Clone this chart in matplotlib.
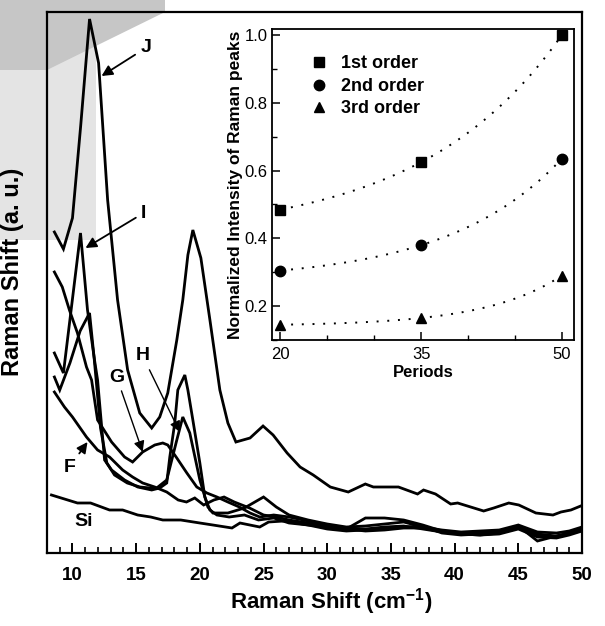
import numpy as np
import matplotlib
matplotlib.use("Agg")
import matplotlib.pyplot as plt
from matplotlib.ticker import MultipleLocator, FixedLocator
from matplotlib.patches import Polygon

plt.rcParams['font.family'] = ['Liberation Sans', 'DejaVu Sans']
plt.rcParams['mathtext.fontset'] = 'custom'
plt.rcParams['mathtext.rm'] = 'Liberation Sans:bold'
plt.rcParams['mathtext.bf'] = 'Liberation Sans:bold'

# ---------------- main spectra (x: cm^-1, y: arbitrary units) ----------------
tail_x = [27.0, 28.5, 30.0, 31.5, 33.0, 34.5, 36.0, 37.5, 39.0, 40.5, 42.0, 43.5, 45.0, 46.5, 48.0, 49.0, 50.0]

J_x = [8.58, 9.29, 10.0, 10.65, 11.34, 12.05, 12.76, 13.54, 14.33, 15.28, 16.22, 16.85, 17.48, 18.19, 18.66,
       19.06, 19.45, 20.08, 20.79, 21.57, 22.2, 22.83, 23.94, 24.96, 25.75, 26.85, 27.87, 28.9, 30.24, 31.65,
       32.99, 33.62, 35.59, 37.09, 37.56, 38.5, 39.69, 40.24, 41.26, 42.28, 43.07, 44.25, 45.04, 46.38, 47.72,
       48.35, 49.13, 49.9]
J_y = [321, 304, 335, 428, 534, 490, 353, 253, 183, 140, 125, 136, 160, 213, 253,
       298, 323, 295, 233, 163, 130, 111, 115, 127, 118, 100, 86, 78, 66, 61,
       69, 66, 66, 59, 63, 59, 49, 50, 46, 42, 45, 50, 48, 40, 38,
       41, 43, 47]

I_x = [8.58, 9.29, 10.63, 11.18, 11.73, 11.97, 12.52, 13.07, 14.09, 15.12, 16.22, 16.85, 17.4, 17.64, 18.03,
       18.27, 18.82, 19.06, 19.45, 20.0, 20.39, 20.79, 21.34, 22.3, 23.5, 24.6, 25.8] + tail_x
I_y = [200, 180, 320, 243, 193, 173, 93, 83, 73, 66, 63, 65, 70, 96, 130,
       163, 178, 163, 133, 90, 56, 43, 38, 36, 38, 33, 35] + \
      [30, 28, 24, 22, 23, 25, 26, 27, 20, 18, 19, 21, 26, 19, 17, 20, 24]

H_x = [8.58, 9.0, 9.8, 10.6, 11.34, 11.7, 12.2, 12.7, 13.3, 14.3, 15.3, 16.1, 16.61, 17.4, 18.19,
       18.66, 19.21, 20.0, 20.63, 21.02, 22.2, 23.5, 25.0, 26.0] + tail_x
H_y = [176, 163, 190, 222, 240, 195, 125, 90, 78, 70, 66, 65, 65, 73, 113,
       136, 120, 73, 46, 40, 40, 45, 56, 46] + \
      [38, 33, 29, 26, 27, 29, 31, 26, 23, 21, 22, 23, 28, 21, 20, 22, 26]

G_x = [8.58, 9.2, 9.76, 10.39, 11.1, 11.5, 11.97, 13.07, 14.09, 14.72, 15.51, 16.46, 17.09, 17.48, 18.19,
       18.98, 19.76, 20.55, 21.34, 22.2, 23.1, 23.94, 24.7, 25.8] + tail_x
G_y = [281, 266, 243, 220, 186, 173, 133, 111, 96, 91, 101, 108, 110, 108, 95,
       80, 66, 60, 56, 51, 46, 40, 36, 38] + \
      [36, 32, 27, 24, 22, 23, 25, 25, 21, 19, 18, 20, 25, 17, 16, 19, 23]

F_x = [8.58, 9.37, 10.0, 11.1, 11.97, 12.91, 13.94, 14.72, 15.51, 16.46, 17.4, 18.3, 18.95, 19.6, 20.3,
       21.1, 21.9, 22.7, 23.9, 25.0, 26.0] + tail_x
F_y = [161, 146, 136, 116, 103, 96, 83, 76, 70, 66, 61, 53, 51, 55, 48,
       53, 56, 51, 45, 38, 36] + \
      [33, 30, 26, 24, 35, 35, 33, 28, 22, 20, 21, 22, 27, 12, 17, 20, 25]

Si_x = [8.35, 10.39, 11.42, 12.91, 13.94, 15.12, 16.14, 17.09, 18.5, 20.0, 21.02, 22.52, 23.15, 24.7, 25.4,
        26.6] + tail_x[1:]
Si_y = [58, 50, 50, 43, 43, 38, 36, 33, 33, 30, 28, 25, 30, 26, 31,
        32] + [28, 26, 25, 24, 26, 27, 24, 21, 19, 18, 19, 24, 16, 15, 18, 22]

spectra = [(Si_x, Si_y), (F_x, F_y), (G_x, G_y), (H_x, H_y), (I_x, I_y), (J_x, J_y)]

# ---------------- inset data ----------------
periods = [20, 35, 50]
first_order = [0.485, 0.625, 1.0]
second_order = [0.305, 0.38, 0.635]
third_order = [0.145, 0.165, 0.29]

fig = plt.figure(figsize=(6.05, 6.26), dpi=100)

# faint scanned watermark shading in the top-left corner (figure pixels, origin top-left)
W, Hh = 605, 626
def fp(x, y):
    return x / W, 1 - y / Hh
fig.patches.append(Polygon([fp(0, 0), fp(165, 0), fp(165, 12), fp(96, 40), fp(96, 240), fp(0, 240)],
                           closed=True, transform=fig.transFigure, facecolor='#e4e4e4',
                           edgecolor='none', zorder=0))
fig.patches.append(Polygon([fp(0, 0), fp(165, 0), fp(165, 12), fp(47, 70), fp(0, 70)],
                           closed=True, transform=fig.transFigure, facecolor='#c6c6c6',
                           edgecolor='none', zorder=0))

ax = fig.add_axes([47/605, 1-553/626, (582-47)/605, (553-12)/626])
ax.set_facecolor('none')
ax.set_zorder(2)

for xs, ys in spectra:
    ax.plot(xs, ys, color='black', lw=2.0, solid_joinstyle='miter')

ax.set_xlim(8.0, 50.0)
ax.set_ylim(0, 541)
ax.set_yticks([])
ax.xaxis.set_major_locator(MultipleLocator(5))
ax.xaxis.set_minor_locator(MultipleLocator(1))
ax.tick_params(axis='x', which='major', direction='in', length=7, width=1.4, pad=10,
               labelsize=13.5, top=False)
ax.tick_params(axis='x', which='minor', direction='in', length=4, width=1.2, top=False)
for lab in ax.get_xticklabels():
    lab.set_fontweight('bold')
for s in ax.spines.values():
    s.set_linewidth(1.6)

fig.text(331/605, 1-602/626, r'Raman Shift (cm$^{-1}$)', ha='center', va='center',
         fontsize=16, fontweight='bold', zorder=3)
fig.text(13/605, 1-272/626, 'Raman Shift (a. u.)', ha='center', va='center',
         rotation=90, fontsize=17, fontweight='bold', zorder=3)

arrow = dict(arrowstyle='-|>', color='black', lw=1.3, mutation_scale=16, shrinkA=2, shrinkB=0)
def px(xp, yp):
    return 10 + (xp - 73) / 12.7, 553 - yp

ax.annotate('J', xy=px(102, 76), xytext=px(146, 48), fontsize=14, fontweight='bold',
            ha='center', va='center', arrowprops=arrow)
ax.annotate('I', xy=px(86, 248), xytext=px(144, 213), fontsize=14, fontweight='bold',
            ha='center', va='center', arrowprops=arrow)
ax.annotate('H', xy=px(180, 432), xytext=px(143, 356), fontsize=14, fontweight='bold',
            ha='center', va='center', arrowprops=dict(arrow, lw=1.0))
ax.annotate('G', xy=px(143, 452), xytext=px(117, 377), fontsize=14, fontweight='bold',
            ha='center', va='center', arrowprops=dict(arrow, lw=1.0))
ax.annotate('F', xy=px(88, 442), xytext=px(70, 467), fontsize=14, fontweight='bold',
            ha='center', va='center', arrowprops=arrow)
ax.text(*px(84, 522), 'Si', fontsize=14, fontweight='bold', ha='center', va='center')

# ---------------- inset ----------------
ax2 = fig.add_axes([272/605, 1-340/626, (574-272)/605, (340-29)/626])
ax2.set_zorder(3)
series = [(first_order, 's', '1st order'), (second_order, 'o', '2nd order'), (third_order, '^', '3rd order')]
xf = np.linspace(periods[0], periods[-1], 200)
for vals, mk, lab in series:
    y1, y2, y3 = vals
    r = (y3 - y2) / (y2 - y1)
    k = np.log(r) / (periods[1] - periods[0])
    A = (y2 - y1) / (np.exp(k * periods[1]) - np.exp(k * periods[0]))
    y0 = y1 - A * np.exp(k * periods[0])
    ax2.plot(xf, y0 + A * np.exp(k * xf), color='black', lw=1.4, ls=(0, (1, 4.5)))
    ax2.plot(periods, vals, ls='none', marker=mk, color='black', ms=7.5, label=lab)

ax2.set_xlim(19.1, 51.3)
ax2.set_ylim(0.1, 1.018)
ax2.xaxis.set_major_locator(FixedLocator([20, 35, 50]))
ax2.xaxis.set_minor_locator(MultipleLocator(5))
ax2.yaxis.set_major_locator(FixedLocator([0.2, 0.4, 0.6, 0.8, 1.0]))
ax2.yaxis.set_minor_locator(MultipleLocator(0.1))
ax2.tick_params(which='major', direction='in', length=6, width=1.1, labelsize=12, pad=3)
ax2.tick_params(which='minor', direction='in', length=3.5, width=1.0)
ax2.tick_params(axis='x', which='major', pad=5)
for s in ax2.spines.values():
    s.set_linewidth(1.3)
ax2.set_xlabel('Periods', fontsize=12, fontweight='bold', labelpad=2)
ax2.set_ylabel('Normalized Intensity of Raman peaks', fontsize=12.5, fontweight='bold', labelpad=1)
leg = ax2.legend(loc='upper left', bbox_to_anchor=(0.126, 0.915), frameon=False,
                 handlelength=1.0, handletextpad=0.72, labelspacing=0.3, borderpad=0, borderaxespad=0,
                 prop={'weight': 'bold', 'size': 13})

fig.savefig('out.png', dpi=100)
